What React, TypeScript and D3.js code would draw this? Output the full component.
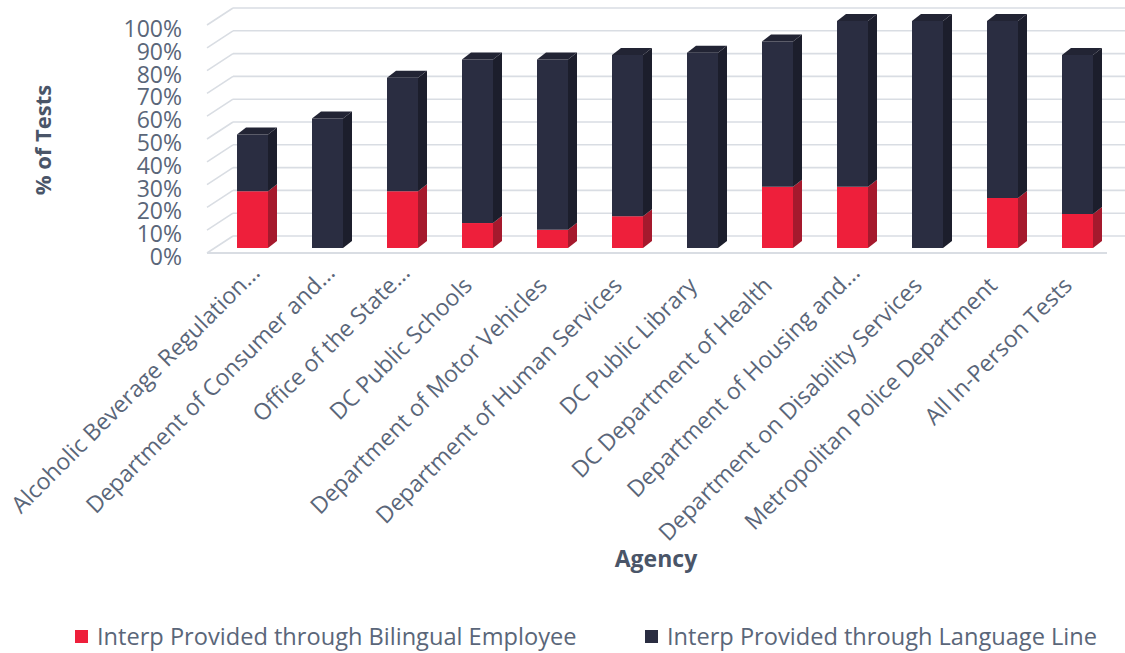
import React from "react";
import * as d3 from "d3";

const categories = [
  "Alcoholic Beverage Regulation...",
  "Department of Consumer and...",
  "Office of the State...",
  "DC Public Schools",
  "Department of Motor Vehicles",
  "Department of Human Services",
  "DC Public Library",
  "DC Department of Health",
  "Department of Housing and...",
  "Department on Disability Services",
  "Metropolitan Police Department",
  "All In-Person Tests",
];
const bilingual = [25, 0, 25, 11, 8, 14, 0, 27, 27, 0, 22, 15];
const languageLine = [25, 57, 50, 72, 75, 71, 86, 64, 73, 100, 78, 70];
const yTicks = [0, 10, 20, 30, 40, 50, 60, 70, 80, 90, 100];
const seriesNames = [
  "Interp Provided through Bilingual Employee",
  "Interp Provided through Language Line",
];

const W = 1125;
const H = 653;
const FONT = "'Open Sans', sans-serif";
const LABEL = "#5a6679";
const TITLE = "#4a5568";
const GRID = "#d9dde3";

const RED = { front: "#ee1f3b", side: "#a5192d", top: "#c81b32" };
const DARK = { front: "#2a2d41", side: "#1c1e2c", top: "#222434" };

export default function App() {
  const x = d3.scaleBand<string>().domain(categories).range([207, 1107]).padding(0);
  const yFront = d3.scaleLinear().domain([0, 100]).range([253, 25]);
  const yBack = d3.scaleLinear().domain([0, 100]).range([236, 8]);
  const yBar = d3.scaleLinear().domain([0, 100]).range([248, 21]);

  const depthDx = 26;
  const barW = 31;
  const sdx = 9;
  const sdy = -7;
  const barOffset = 30;

  const seg = (x0: number, v0: number, v1: number, c: typeof RED, top: boolean, key: string) => {
    const yb = yBar(v0);
    const yt = yBar(v1);
    const front = `M${x0},${yb}L${x0 + barW},${yb}L${x0 + barW},${yt}L${x0},${yt}Z`;
    const side = `M${x0 + barW},${yb}L${x0 + barW + sdx},${yb + sdy}L${x0 + barW + sdx},${yt + sdy}L${x0 + barW},${yt}Z`;
    const topP = `M${x0},${yt}L${x0 + sdx},${yt + sdy}L${x0 + barW + sdx},${yt + sdy}L${x0 + barW},${yt}Z`;
    return (
      <g key={key}>
        <path d={side} fill={c.side} />
        <path d={front} fill={c.front} />
        {top && <path d={topP} fill={c.top} />}
      </g>
    );
  };

  return (
    <svg width={W} height={H} style={{ display: "block", position: "absolute", left: 0, top: 0, background: "#fff" }}>
      {/* back wall gridlines */}
      {yTicks.map((t) => (
        <g key={"g" + t}>
          <line x1={207 + depthDx} x2={1140} y1={yBack(t)} y2={yBack(t)} stroke={GRID} strokeWidth={1.6} />
          <line x1={207} y1={yFront(t)} x2={207 + depthDx} y2={yBack(t)} stroke={GRID} strokeWidth={1.6} />
        </g>
      ))}
      <line x1={207} x2={1107} y1={yFront(0)} y2={yFront(0)} stroke={GRID} strokeWidth={1.8} />

      {/* bars */}
      {categories.map((c, i) => {
        const x0 = (x(c) as number) + barOffset;
        const b = bilingual[i];
        const l = languageLine[i];
        return (
          <g key={c}>
            {b > 0 && seg(x0, 0, b, RED, l === 0, "r")}
            {l > 0 && seg(x0, b, b + l, DARK, true, "d")}
          </g>
        );
      })}

      {/* y tick labels */}
      {yTicks.map((t) => (
        <text
          key={"t" + t}
          x={182}
          y={yFront(t) + 3}
          textAnchor="end"
          dominantBaseline="central"
          fontFamily={FONT}
          fontSize={23}
          fill={LABEL}
        >
          {t}%
        </text>
      ))}

      {/* x labels */}
      {categories.map((c) => {
        const cx = (x(c) as number) + barOffset + barW / 2;
        const ell = c.endsWith("...");
        return (
          <text
            key={"x" + c}
            transform={`translate(${cx - 4},287) rotate(-45)`}
            dx={ell ? 18 : 0}
            textAnchor="end"
            fontFamily={FONT}
            fontSize={23}
            fill={LABEL}
          >
            {c}
          </text>
        );
      })}

      {/* axis titles */}
      <text
        transform="translate(42,140) rotate(-90)"
        textAnchor="middle"
        dominantBaseline="central"
        fontFamily={FONT}
        fontWeight={700}
        fontSize={22}
        fill={TITLE}
      >
        % of Tests
      </text>
      <text x={656} y={567} textAnchor="middle" fontFamily={FONT} fontWeight={700} fontSize={23} fill={TITLE}>
        Agency
      </text>

      {/* legend */}
      {seriesNames.map((s, i) => {
        const lx = i === 0 ? 75 : 645;
        const col = i === 0 ? RED.front : DARK.front;
        return (
          <g key={s}>
            <rect x={lx} y={630} width={13} height={13} fill={col} />
            <text x={lx + 22} y={645} fontFamily={FONT} fontSize={23.6} fill={LABEL}>
              {s}
            </text>
          </g>
        );
      })}
    </svg>
  );
}
